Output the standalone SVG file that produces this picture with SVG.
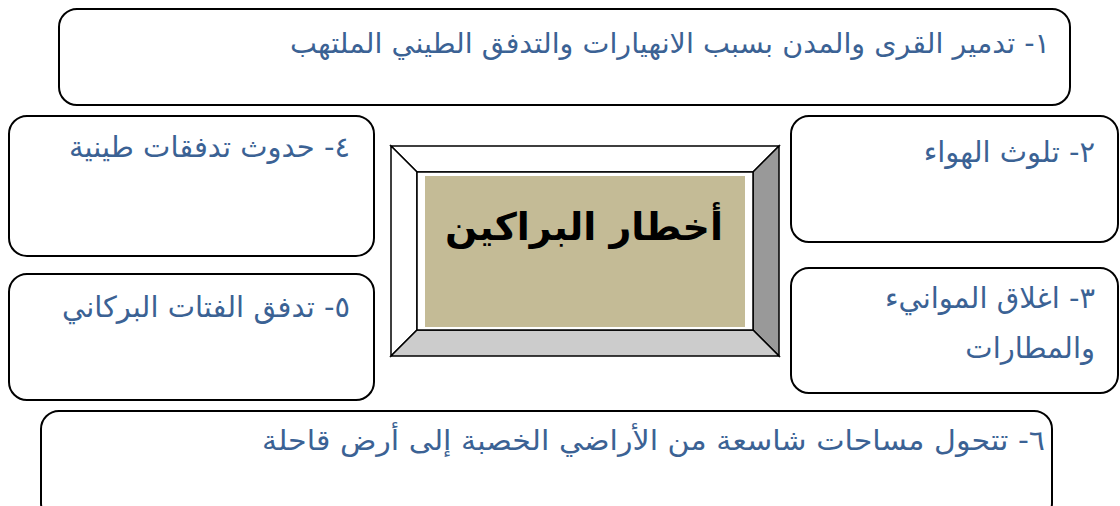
<svg xmlns="http://www.w3.org/2000/svg" width="1120" height="506" viewBox="0 0 1120 506">
<style>
.box{fill:#fff;stroke:#000;stroke-width:2}
.t{font-family:"DejaVu Sans","Liberation Sans","Noto Sans",sans-serif;font-size:29px;fill:#3b6294;direction:rtl;text-anchor:start}
.w{font-size:28px}
.title{font-family:"DejaVu Sans","Liberation Sans","Noto Sans",sans-serif;font-size:38px;font-weight:bold;fill:#000;direction:rtl;text-anchor:middle}
.bev{stroke:#000;stroke-width:1.5}
</style>
<rect width="1120" height="506" fill="#fff"/>
<g id="n1"><rect class="box" x="59" y="9" width="1011" height="96" rx="18"/><text class="t w" x="1050" y="53" textLength="760" lengthAdjust="spacingAndGlyphs">١- تدمير القرى والمدن بسبب الانهيارات والتدفق الطيني الملتهب</text></g>
<g id="n2"><rect class="box" x="791" y="116" width="327" height="126" rx="18"/><text class="t" x="1095" y="162">٢- تلوث الهواء</text></g>
<g id="n3"><rect class="box" x="791" y="268" width="327" height="125" rx="18"/><text class="t" x="1095" y="308">٣- اغلاق الموانيء</text><text class="t" x="1095" y="358">والمطارات</text></g>
<g id="n4"><rect class="box" x="9" y="116" width="365" height="140" rx="18"/><text class="t" x="350" y="157">٤-  حدوث تدفقات طينية</text></g>
<g id="n5"><rect class="box" x="9" y="274" width="365" height="126" rx="18"/><text class="t" x="350" y="317">٥- تدفق الفتات البركاني</text></g>
<g id="n6"><rect class="box" x="41" y="411" width="1011" height="110" rx="18"/><text class="t w" x="1045" y="450" textLength="783" lengthAdjust="spacingAndGlyphs">٦- تتحول مساحات شاسعة من الأراضي الخصبة إلى أرض قاحلة</text></g>
<g id="center">
<polygon class="bev" points="391,146 779,146 753,172 417,172" fill="#fff"/>
<polygon class="bev" points="391,146 417,172 417,330 391,356" fill="#fff"/>
<polygon class="bev" points="779,146 779,356 753,330 753,172" fill="#999"/>
<polygon class="bev" points="391,356 417,330 753,330 779,356" fill="#ccc"/>
<rect x="417" y="172" width="336" height="158" fill="#fff" stroke="#000" stroke-width="1.5"/>
<rect x="425" y="176" width="320" height="151" fill="#c4bb96"/>
<text class="title" x="584" y="240">أخطار البراكين</text>
</g>
<g id="connectors"/>
</svg>
